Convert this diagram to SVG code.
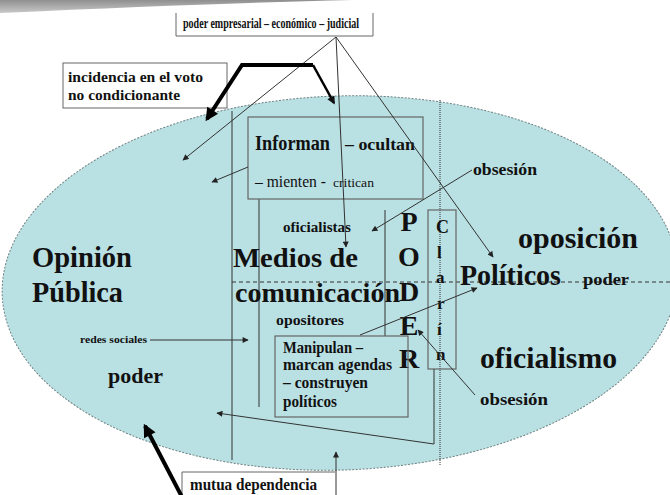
<svg xmlns="http://www.w3.org/2000/svg" width="670" height="495" viewBox="0 0 670 495">
<defs>
<linearGradient id="band" x1="0" y1="0" x2="0" y2="1">
<stop offset="0" stop-color="#8f8f8f"/>
<stop offset="1" stop-color="#c9c9c9"/>
</linearGradient>
<marker id="ah" viewBox="0 0 10 10" refX="9" refY="5" markerWidth="7" markerHeight="6" markerUnits="userSpaceOnUse" orient="auto">
<path d="M0,0 L10,5 L0,10 Z" fill="#222"/>
</marker>
<marker id="ahBig" viewBox="0 0 10 10" refX="8" refY="5" markerWidth="16" markerHeight="13" markerUnits="userSpaceOnUse" orient="auto">
<path d="M0,0 L10,5 L0,10 Z" fill="#000"/>
</marker>
<marker id="ahMid" viewBox="0 0 10 10" refX="8" refY="5" markerWidth="9" markerHeight="8" markerUnits="userSpaceOnUse" orient="auto">
<path d="M0,0 L10,5 L0,10 Z" fill="#111"/>
</marker>
</defs>
<style>
.box{fill:#fff;stroke:#666;stroke-width:1;}
.ibox{fill:none;stroke:#666;stroke-width:1.2;}
.ln{fill:none;stroke:#333;stroke-width:1;}
.arr{fill:none;stroke:#333;stroke-width:1;marker-end:url(#ah);}
.thick{fill:none;stroke:#000;stroke-width:4;}
</style>
<rect width="670" height="495" fill="#fff"/>
<path d="M0,0 L352,0 Q220,3 0,13 Z" fill="url(#band)"/>

<g id="ellipse">
<ellipse cx="340" cy="283" rx="338" ry="187" transform="rotate(-2 340 283)" fill="#b9e0e3" stroke="#6f8082" stroke-width="1" stroke-dasharray="2,1.5"/>
</g>

<g id="structure">
<line class="ln" x1="232" y1="111" x2="232" y2="460"/>
<line class="ln" x1="259" y1="199" x2="259" y2="407"/>
<line class="ln" x1="385" y1="210" x2="385" y2="336"/>
<line class="ln" x1="440" y1="100" x2="440" y2="465" stroke-dasharray="1,1" stroke="#777"/>
<line class="ln" x1="232" y1="282" x2="670" y2="282" stroke-dasharray="4,3"/>
</g>

<g font-family="'Liberation Serif', serif" font-weight="bold" fill="#111">
<g id="top-label">
<path class="box" d="M176,13 L176,36 L373,36 L373,13"/>
<text x="183" y="28" font-size="14" textLength="176" lengthAdjust="spacingAndGlyphs">poder empresarial – económico – judicial</text>
</g>

<g id="incidencia">
<rect class="box" x="63" y="63" width="164" height="45"/>
<text x="68" y="82" font-size="15" textLength="135" lengthAdjust="spacingAndGlyphs">incidencia en el voto</text>
<text x="68" y="100" font-size="15" textLength="112" lengthAdjust="spacingAndGlyphs">no condicionante</text>
</g>

<g id="informan">
<rect class="ibox" x="248" y="117" width="175" height="82"/>
<text x="255" y="150" font-size="20" textLength="75" lengthAdjust="spacingAndGlyphs">Informan</text>
<text x="345" y="150" font-size="17" textLength="70" lengthAdjust="spacingAndGlyphs">– ocultan</text>
<text font-weight="normal" x="255" y="187" font-size="16" textLength="71" lengthAdjust="spacingAndGlyphs">– mienten -</text>
<text font-weight="normal" x="333" y="187" font-size="13" textLength="41" lengthAdjust="spacingAndGlyphs">critican</text>
</g>

<g id="medios">
<text x="233" y="267" font-size="28" textLength="125" lengthAdjust="spacingAndGlyphs">Medios de</text>
<text x="235" y="302" font-size="28" textLength="165" lengthAdjust="spacingAndGlyphs">comunicación</text>
</g>

<g id="oficialistas"><text x="283" y="232" font-size="14" textLength="68" lengthAdjust="spacingAndGlyphs">oficialistas</text></g>
<g id="opositores"><text x="276" y="325" font-size="15" textLength="68" lengthAdjust="spacingAndGlyphs">opositores</text></g>

<g id="poder-vertical" font-size="28">
<text x="409" y="231" text-anchor="middle">P</text>
<text x="409" y="266" text-anchor="middle">O</text>
<text x="409" y="301" text-anchor="middle">D</text>
<text x="409" y="335" text-anchor="middle">E</text>
<text x="409" y="368" text-anchor="middle">R</text>
</g>

<g id="clarin">
<rect class="ibox" x="428" y="210" width="28" height="159"/>
<text x="436" y="233" font-size="18">C</text>
<text x="437" y="258" font-size="17">l</text>
<text x="436" y="283" font-size="17">a</text>
<text x="437" y="309" font-size="17">r</text>
<text x="437" y="335" font-size="17">í</text>
<text x="436" y="360" font-size="17">n</text>
</g>

<g id="manipulan">
<rect class="ibox" x="275" y="336" width="133" height="81"/>
<text x="283" y="353" font-size="16" textLength="80" lengthAdjust="spacingAndGlyphs">Manipulan –</text>
<text x="283" y="370" font-size="16" textLength="109" lengthAdjust="spacingAndGlyphs">marcan agendas</text>
<text x="283" y="388" font-size="16" textLength="85" lengthAdjust="spacingAndGlyphs">– construyen</text>
<text x="283" y="407" font-size="16" textLength="54" lengthAdjust="spacingAndGlyphs">políticos</text>
</g>

<g id="opinion">
<text x="32" y="267" font-size="29" textLength="100" lengthAdjust="spacingAndGlyphs">Opinión</text>
<text x="32" y="302" font-size="29" textLength="91" lengthAdjust="spacingAndGlyphs">Pública</text>
</g>
<g id="poder-left"><text x="108" y="383" font-size="22" textLength="55" lengthAdjust="spacingAndGlyphs">poder</text></g>
<g id="redes"><text x="80" y="343" font-size="11" textLength="67" lengthAdjust="spacingAndGlyphs">redes sociales</text></g>

<g id="oposicion"><text x="518" y="248" font-size="29" textLength="120" lengthAdjust="spacingAndGlyphs">oposición</text></g>
<g id="politicos"><text x="460" y="285" font-size="29" textLength="101" lengthAdjust="spacingAndGlyphs">Políticos</text></g>
<g id="poder-right"><text x="583" y="285" font-size="17" textLength="46" lengthAdjust="spacingAndGlyphs">poder</text></g>
<g id="oficialismo"><text x="480" y="368" font-size="29" textLength="137" lengthAdjust="spacingAndGlyphs">oficialismo</text></g>
<g id="obsesion-top"><text x="473" y="175" font-size="17" textLength="64" lengthAdjust="spacingAndGlyphs">obsesión</text></g>
<g id="obsesion-bottom"><text x="480" y="405" font-size="17" textLength="68" lengthAdjust="spacingAndGlyphs">obsesión</text></g>

<g id="mutua">
<path class="box" d="M182,497 L182,472 L335,472"/>
<text x="190" y="490" font-size="16" textLength="127" lengthAdjust="spacingAndGlyphs">mutua dependencia</text>
</g>
</g>

<g id="connectors">
<line class="arr" x1="336" y1="37" x2="183" y2="160"/>
<line class="arr" x1="336" y1="37" x2="346" y2="247"/>
<line class="arr" x1="336" y1="37" x2="493" y2="257"/>
<line class="arr" x1="248" y1="167" x2="212" y2="182"/>
<line class="arr" x1="472" y1="170" x2="372" y2="231"/>
<line class="arr" x1="360" y1="335" x2="477" y2="288"/>
<line class="arr" x1="475" y1="395" x2="418" y2="330"/>
<line class="arr" x1="150" y1="340" x2="248" y2="340"/>
<polyline class="arr" points="434,369 434,444 217,413"/>
<line class="arr" x1="336" y1="497" x2="336" y2="452"/>
<path class="thick" d="M313,65 L242,65 L207,119" marker-end="url(#ahBig)"/>
<path fill="none" stroke="#000" stroke-width="2.5" d="M313,65 L334,103" marker-end="url(#ahMid)"/>
<line class="thick" x1="182" y1="497" x2="145" y2="426" marker-end="url(#ahBig)"/>
</g>
</svg>
